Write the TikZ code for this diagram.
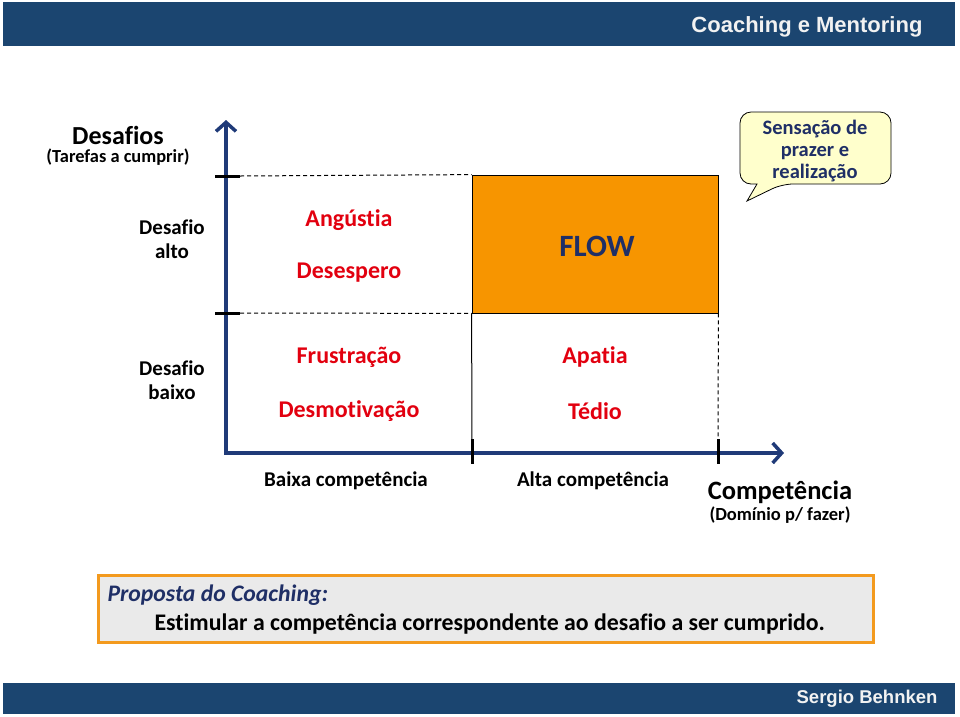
\documentclass[tikz,border=0pt]{standalone}
\usepackage{fontspec}
\setmainfont{Carlito}[Ligatures=NoCommon]
\newfontfamily\headfont{Liberation Sans}
\usetikzlibrary{arrows.meta,positioning}

\definecolor{barblue}{HTML}{1B4570}
\definecolor{axisblue}{HTML}{1F3A78}
\definecolor{navytxt}{HTML}{1F2F66}
\definecolor{redtxt}{HTML}{E2000F}
\definecolor{floworange}{HTML}{F79500}
\definecolor{boxorange}{HTML}{F39A1E}
\definecolor{boxgray}{HTML}{EAEAEA}
\definecolor{calloutyellow}{HTML}{FFFFCC}

\tikzset{
  axisline/.style={line width=3.5pt, draw=axisblue, -{Straight Barb[length=9pt,width=20pt]}},
  tickmark/.style={line width=3pt},
  guide/.style={dash pattern=on 4pt off 3pt, line width=1pt},
  feeling/.style={text=redtxt, font=\bfseries\fontsize{24}{27}\selectfont},
  lbl/.style={font=\bfseries\fontsize{21}{24}\selectfont, align=center},
  complbl/.style={font=\bfseries\fontsize{21}{24}\selectfont},
}

\begin{document}
\begin{tikzpicture}[x=1pt,y=-1pt]
  \useasboundingbox (0,0) rectangle (960,716);

  \fill[barblue] (3,2) rectangle (955,46);
  \node[anchor=east, text=white!90!gray, font=\headfont\bfseries\fontsize{22}{26}\selectfont] (title) at (926,27) {Coaching e Mentoring};
  \fill[barblue] (3,683) rectangle (955,714);
  \node[anchor=east, text=white!90!gray, font=\headfont\bfseries\fontsize{18.5}{22}\selectfont] (author) at (941,699) {Sergio Behnken};

  \coordinate (origin) at (226,453);
  \coordinate (ytop) at (226,120);
  \coordinate (xend) at (784,453);

  \node[draw, line width=0.8pt, fill=floworange, minimum width=246pt, minimum height=138pt, inner sep=0pt] (flow) at (595,244) {};
  \node[text=navytxt, font=\bfseries\fontsize{31}{35}\selectfont] (flowtxt) at (597,246) {FLOW};

  \draw[guide] (240,176) -- (flow.north west);
  \draw[guide] (240,313) -- (flow.south west);
  \draw[line width=1pt] (flow.south west) -- (472,453);
  \draw[guide] (flow.south east) -- (718,440);

  \draw[axisline] ([yshift=-1.75pt]origin) -- (ytop);
  \draw[axisline] ([xshift=-1.75pt]origin) -- (xend);

  \draw[tickmark] (215,176) -- (240,176);
  \draw[tickmark] (215,313) -- (240,313);
  \draw[tickmark] (472,439) -- (472,464);
  \draw[tickmark] (718,439) -- (718,464);

  \node[font=\bfseries\fontsize{26}{30}\selectfont] (desafios) at (118,135) {Desafios};
  \node[font=\bfseries\fontsize{18.4}{22}\selectfont] (tarefas) at (118,157) {(Tarefas a cumprir)};
  \node[lbl] (alto) at (172,239) {Desafio\\alto};
  \node[lbl] (baixo) at (172,380) {Desafio\\baixo};

  \node[feeling] (angustia) at (349,220) {Angústia};
  \node[feeling] (desespero) at (349,273) {Desespero};
  \node[feeling] (frustracao) at (349,357) {Frustração};
  \node[feeling] (desmotivacao) at (349,411) {Desmotivação};
  \node[feeling] (apatia) at (595,357) {Apatia};
  \node[feeling] (tedio) at (595,411) {Tédio};

  \node[complbl] (baixacomp) at (346,481) {Baixa competência};
  \node[complbl] (altacomp) at (593,481) {Alta competência};
  \node[font=\bfseries\fontsize{26.5}{30}\selectfont] (competencia) at (780,492) {Competência};
  \node[font=\bfseries\fontsize{18.5}{22}\selectfont] (dominio) at (780,515) {(Domínio p/ fazer)};

  \draw[fill=calloutyellow, line width=0.8pt, rounded corners=11pt]
    (757,184) -- (740,184) -- (740,112) -- (891,112) -- (891,184) -- (782,184)
    [sharp corners] -- (747,201) -- cycle;
  \node[text=navytxt, align=center, font=\bfseries\fontsize{20.5}{22}\selectfont] (sensacao) at (815,151) {Sensação de\\prazer e\\realização};

  \node[draw=boxorange, fill=boxgray, line width=3pt, minimum width=775pt, minimum height=67pt, inner sep=0pt] (proposta) at (485.5,608.5) {};
  \node[anchor=west, text=navytxt, font=\bfseries\itshape\fontsize{23.7}{27}\selectfont] (propostatit) at (104,595) {Proposta do Coaching:};
  \node[anchor=west, font=\bfseries\fontsize{23.8}{27}\selectfont] (estimular) at (151,624) {Estimular a competência correspondente ao desafio a ser cumprido.};
\end{tikzpicture}
\end{document}
